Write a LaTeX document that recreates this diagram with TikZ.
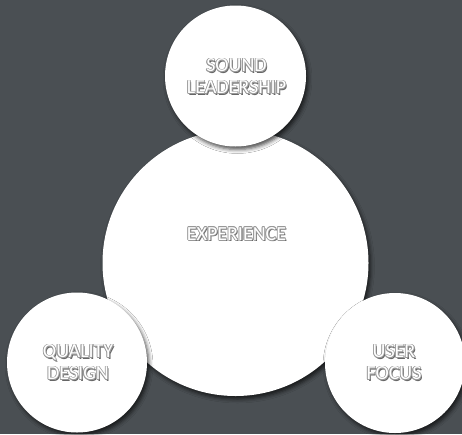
\documentclass[tikz,border=0pt]{standalone}
\usepackage{fontspec}
\setmainfont{Carlito}
\usetikzlibrary{shadows.blur,calc}
\definecolor{bg}{HTML}{4A4F53}
\definecolor{edgegray}{HTML}{989898}
\definecolor{shadegray}{HTML}{666666}
\tikzset{
  bubble/.style={circle, fill=white, inner sep=0pt,
    blur shadow={shadow xshift=2pt, shadow yshift=-3pt, shadow blur radius=4pt, shadow opacity=70}},
  lbl/.style={inner sep=0pt, align=center, font=\fontsize{20}{22}\selectfont}
}
\newcommand\embtext[3]{%
  \node[lbl, text=shadegray] at ($(#2)+(1.3,1.3)$) {#3};
  \foreach \dx/\dy in {-0.8/0,0.8/0,0/-0.8,0/0.8,-0.55/-0.55,0.55/0.55,-0.55/0.55,0.55/-0.55}
    {\node[lbl, text=edgegray] at ($(#2)+(\dx,\dy)$) {#3};}
  \node[lbl, text=white] (#1) at (#2) {#3};
}
\begin{document}
\begin{tikzpicture}[x=1pt,y=-1pt]
\fill[bg] (0,0) rectangle (462,434);
\useasboundingbox (0,0) rectangle (462,434);
\clip (0,0) rectangle (462,434);
\node[bubble, minimum size=266pt] (exp) at (235.5,263) {};
\node[bubble, minimum size=141pt] (sound) at (235.5,76) {};
\node[bubble, minimum size=140pt] (quality) at (77,362.5) {};
\node[bubble, minimum size=140pt] (user) at (395,363) {};
\coordinate (expt) at (236.5,234);
\coordinate (soundt) at (236.5,76.5);
\coordinate (qualt) at (78,362.5);
\coordinate (usert) at (394,362.5);
\embtext{expl}{expt}{EXPERIENCE}
\embtext{soundl}{soundt}{SOUND\\LEADERSHIP}
\embtext{quall}{qualt}{QUALITY\\DESIGN}
\embtext{userl}{usert}{USER\\FOCUS}
\end{tikzpicture}
\end{document}
